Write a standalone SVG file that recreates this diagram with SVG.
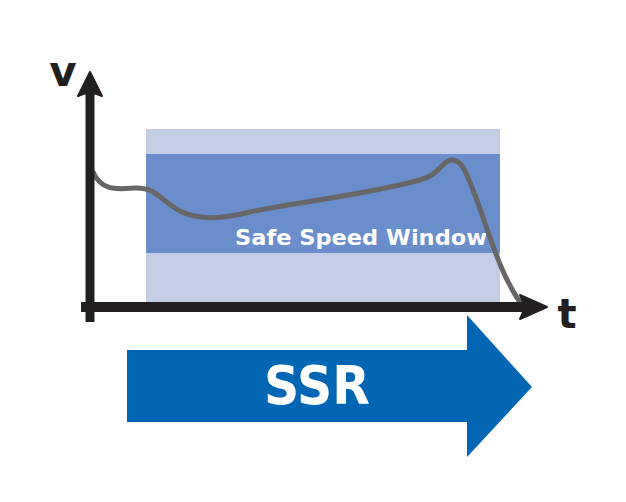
<svg xmlns="http://www.w3.org/2000/svg" width="626" height="502" viewBox="0 0 626 502">
<style>
.lbl{font-family:"DejaVu Sans","Liberation Sans",sans-serif;font-weight:700;fill:#fff}
.ax{font-family:"DejaVu Sans","Liberation Sans",sans-serif;font-weight:700;fill:#231f20}
</style>
<rect width="626" height="502" fill="#fff"/>
<g id="window">
<rect x="146" y="129" width="354" height="174" fill="#c3cde4"/>
<rect x="146" y="154" width="354" height="99" fill="#6a8ecb"/>
<text class="lbl" x="235" y="245" font-size="21" textLength="252" lengthAdjust="spacingAndGlyphs">Safe Speed Window</text>
</g>
<g id="curve">
<path d="M93,172 C102,192 118,189 135,188 C158,187 162,203 182,212 C202,221 225,218 250,212 C290,203 360,196 420,180 C440,175 442,160 452,160 C462,160 466,172 475,195 C490,235 500,275 522,305" fill="none" stroke="#666" stroke-width="5" stroke-linecap="round"/>
</g>
<g id="axes">
<path d="M90,322 V92" stroke="#231f20" stroke-width="9" fill="none"/>
<path d="M90,72 L102,96 Q90,90 78,96 Z" fill="#231f20" stroke="#231f20" stroke-width="2" stroke-linejoin="round"/>
<path d="M81,307 H525" stroke="#231f20" stroke-width="10" fill="none"/>
<path d="M547,307 L520,295 Q527,307 520,319 Z" fill="#231f20" stroke="#231f20" stroke-width="2" stroke-linejoin="round"/>
<text class="ax" x="63" y="86" font-size="42" text-anchor="middle">v</text>
<text class="ax" x="567" y="328" font-size="40" text-anchor="middle">t</text>
</g>
<g id="ssr">
<path d="M127,350 H467 V315 L532,387 L467,457 V422 H127 Z" fill="#0066b3"/>
<text class="lbl" x="317" y="404" font-size="54" text-anchor="middle" textLength="106" lengthAdjust="spacingAndGlyphs">SSR</text>
</g>
</svg>
